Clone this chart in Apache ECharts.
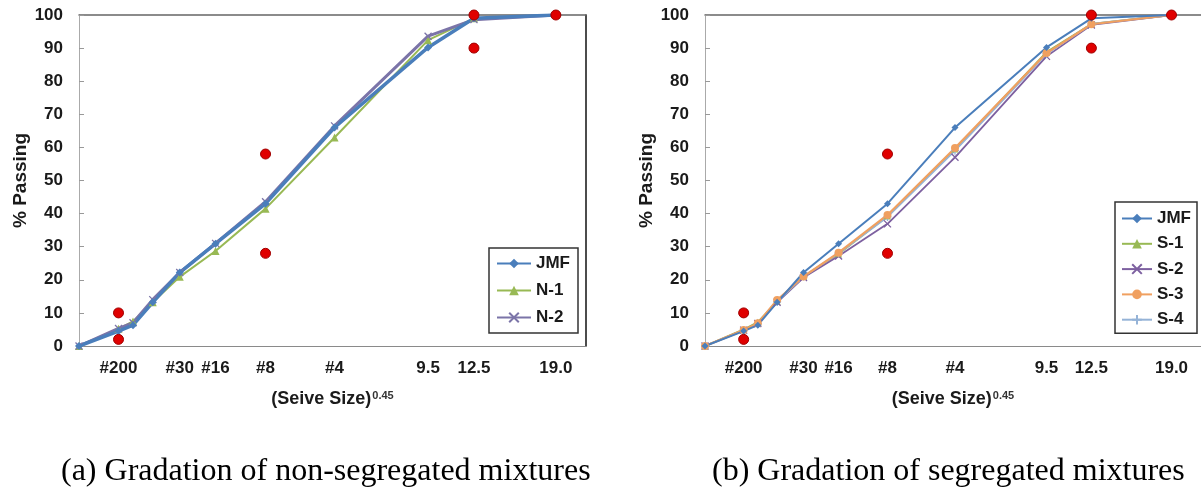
<!DOCTYPE html>
<html>
<head>
<meta charset="utf-8">
<script src="https://cdn.jsdelivr.net/npm/echarts@6/dist/echarts.min.js"></script>
<style>
html,body{margin:0;padding:0;background:#fff;}
#c{width:1201px;height:493px;}
</style>
</head>
<body>
<div id="c"></div>
<script>
// Sieve sizes (mm); x position on chart = size^0.45
const sieveSizes = [0, 0.075, 0.15, 0.3, 0.6, 1.18, 2.36, 4.75, 9.5, 12.5, 19.0];
// % passing
const jmf = [0, 4.5, 6.3, 13.2, 22.2, 30.9, 43.0, 66.0, 90.2, 99.0, 100];
const n1  = [0, 5.2, 7.4, 13.2, 20.9, 28.7, 41.5, 63.0, 92.4, 99.0, 100];
const n2  = [0, 5.3, 7.0, 14.0, 22.2, 31.0, 43.6, 66.5, 93.6, 98.6, 100];
const s1  = [0, 5.0, 7.2, 13.5, 21.0, 27.8, 39.3, 59.5, 88.8, 97.3, 100];
const s2  = [0, 4.8, 6.8, 13.2, 20.7, 27.2, 36.9, 57.0, 87.5, 97.0, 100];
const s3  = [0, 4.8, 6.9, 13.9, 21.0, 28.2, 39.6, 59.8, 88.5, 97.2, 100];
const s4  = [0, 4.7, 6.7, 13.4, 21.0, 28.0, 39.0, 59.0, 88.2, 97.3, 100];
// Control points
const ctrlSizes = [0.075, 0.075, 2.36, 2.36, 12.5, 12.5, 19.0];
const ctrlVals  = [2, 10, 28, 58, 90, 100, 100];
// X tick labels
const tickSizes  = [0.075, 0.6, 1.18, 2.36, 4.75, 9.5, 12.5, 19.0];
const tickLabels = ['#200', '#30', '#16', '#8', '#4', '9.5', '12.5', '19.0'];
const captionA = '(a) Gradation of non-segregated mixtures';
const captionB = '(b) Gradation of segregated mixtures';

const P = 0.45;
const px = s => Math.pow(s, P);
const pts = (sizes, vals) => sizes.map((s, i) => [px(s), vals[i]]);
const tickPos = tickSizes.map(px);

const FONT = 'Liberation Sans, Arial, sans-serif';
const LBL = {fontFamily: FONT, fontWeight: 'bold', fontSize: 17, color: '#1a1a1a'};

const xPath = 'path://M0,0L10,10M10,0L0,10';
const plusPath = 'path://M5,0L5,10M0,5L10,5';

function xAxes(gi) {
  return [{
    type: 'value', gridIndex: gi, min: 0, max: 4, position: 'bottom',
    axisLine: {show: true, onZero: false, lineStyle: {color: '#8a8a8a', width: 1}},
    axisTick: {show: false},
    splitLine: {show: false},
    axisLabel: Object.assign({}, LBL, {
      margin: 14,
      customValues: tickPos,
      formatter: v => {
        let best = 0, bd = 1e9;
        tickPos.forEach((t, i) => { const d = Math.abs(t - v); if (d < bd) { bd = d; best = i; } });
        return tickLabels[best];
      }
    }),
    name: '{t|(Seive Size)}{s|0.45}',
    nameLocation: 'middle', nameGap: 44,
    nameTextStyle: {rich: {
      t: {fontFamily: FONT, fontWeight: 'bold', fontSize: 18, color: '#1a1a1a'},
      s: {fontFamily: FONT, fontWeight: 'bold', fontSize: 11, color: '#333', verticalAlign: 'top', padding: [0,0,0,1]}
    }}
  }, {
    type: 'value', gridIndex: gi, min: 0, max: 4, position: 'top',
    axisLine: {show: true, onZero: false, lineStyle: {color: '#666', width: 1.5}},
    axisTick: {show: false}, axisLabel: {show: false}, splitLine: {show: false}
  }];
}
function yAxes(gi, rightBorder) {
  return [{
    type: 'value', gridIndex: gi, min: 0, max: 100, interval: 10, position: 'left',
    axisLine: {show: true, onZero: false, lineStyle: {color: '#aaa', width: 1}},
    axisTick: {show: true, inside: true, length: 5, lineStyle: {color: '#999'}},
    splitLine: {show: false},
    axisLabel: Object.assign({}, LBL, {margin: 16}),
    name: '% Passing', nameLocation: 'middle', nameRotate: 90, nameGap: 48,
    nameTextStyle: {fontFamily: FONT, fontWeight: 'bold', fontSize: 19, color: '#1a1a1a'}
  }, {
    type: 'value', gridIndex: gi, min: 0, max: 100, position: 'right',
    axisLine: {show: rightBorder, onZero: false, lineStyle: {color: '#111', width: 1.5}},
    axisTick: {show: false}, axisLabel: {show: false}, splitLine: {show: false}
  }];
}
function lineSeries(name, vals, color, symbol, size, width, gi) {
  return {
    type: 'line', name: name, xAxisIndex: gi * 2, yAxisIndex: gi * 2,
    data: pts(sieveSizes, vals),
    symbol: symbol, symbolSize: size, showSymbol: true,
    lineStyle: {color: color, width: width},
    itemStyle: {color: color, borderColor: color, borderWidth: (symbol.startsWith('path') ? 1.3 : 0)},
    emphasis: {disabled: true}, animation: false, z: 3
  };
}
function ctrlSeries(gi) {
  return {
    type: 'scatter', name: 'ctrl', xAxisIndex: gi * 2, yAxisIndex: gi * 2,
    data: pts(ctrlSizes, ctrlVals), symbol: 'circle', symbolSize: 10,
    itemStyle: {color: '#e00000', borderColor: '#a00000', borderWidth: 1, opacity: 1},
    emphasis: {disabled: true}, animation: false, z: 5
  };
}
const legendBase = {
  orient: 'vertical', backgroundColor: '#fff', borderColor: '#333', borderWidth: 1.5,
  textStyle: {fontFamily: FONT, fontWeight: 'bold', fontSize: 17, color: '#1a1a1a', lineHeight: 17},
  itemHeight: 12, selectedMode: false
};

const option = {
  animation: false,
  backgroundColor: '#fff',
  grid: [
    {left: 79, top: 15, width: 507, height: 331},
    {left: 705, top: 15, width: 502, height: 331}
  ],
  xAxis: [].concat(xAxes(0), xAxes(1)),
  yAxis: [].concat(yAxes(0, true), yAxes(1, false)),
  legend: [
    Object.assign({}, legendBase, {left: 489, top: 248, padding: [7, 8, 7, 7], itemWidth: 34, itemGap: 10,
      data: ['JMF', 'N-1', 'N-2']}),
    Object.assign({}, legendBase, {left: 1115, top: 202, padding: [8, 6, 5, 6], itemWidth: 30, itemGap: 8.3,
      data: ['JMF ', 'S-1', 'S-2', 'S-3', 'S-4'], formatter: n => n.trim()})
  ],
  series: [
    lineSeries('N-1', n1, '#98b954', 'triangle', 8, 2, 0),
    lineSeries('N-2', n2, '#7b74a8', xPath, 7, 3, 0),
    lineSeries('JMF', jmf, '#4a7ebb', 'diamond', 8, 3.5, 0),
    ctrlSeries(0),
    lineSeries('S-1', s1, '#98b954', 'triangle', 7, 1.8, 1),
    lineSeries('S-2', s2, '#7d60a0', xPath, 7, 1.8, 1),
    lineSeries('S-4', s4, '#95b3d7', plusPath, 8, 1.8, 1),
    lineSeries('S-3', s3, '#f0a060', 'circle', 8, 2.2, 1),
    lineSeries('JMF ', jmf, '#4a7ebb', 'diamond', 7, 2, 1),
    ctrlSeries(1)
  ],
  graphic: [
    {type: 'text', left: 61, top: 456, style: {text: captionA, font: '32px "Liberation Serif", "Times New Roman", serif', fill: '#000'}},
    {type: 'text', left: 712, top: 456, style: {text: captionB, font: '32px "Liberation Serif", "Times New Roman", serif', fill: '#000'}}
  ]
};
const chart = echarts.init(document.getElementById('c'), null, {renderer: 'canvas'});
chart.setOption(option);
</script>
</body>
</html>
